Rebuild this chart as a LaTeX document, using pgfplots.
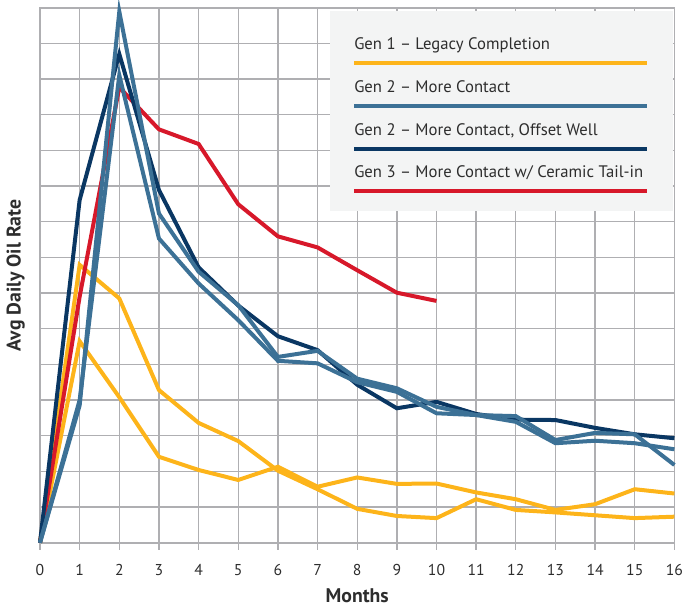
\documentclass[border=0pt]{standalone}
\usepackage{pgfplots}
\pgfplotsset{compat=1.18}
\usepackage{fontspec}
\setmainfont{PT Sans}
\definecolor{gOrange}{RGB}{253,180,26}
\definecolor{gSteel}{RGB}{60,113,150}
\definecolor{gNavy}{RGB}{10,55,99}
\definecolor{gRed}{RGB}{215,24,42}
\definecolor{gGrid}{RGB}{175,175,178}
\definecolor{gLegBg}{RGB}{243,244,244}
\definecolor{gText}{RGB}{45,45,45}
\begin{document}
\begin{tikzpicture}[x=0.75pt,y=0.75pt]
\begin{axis}[
  at={(30pt,48.2pt)}, anchor=south west,
  scale only axis, width=475.8pt, height=401.25pt,
  xmin=0, xmax=16, ymin=0, ymax=15,
  xtick={0,...,16}, ytick={0,...,15}, yticklabels={},
  grid=major,
  grid style={draw=gGrid, line width=1pt},
  axis line style={draw=gGrid, line width=1.3pt},
  tick align=outside, xtick pos=bottom, ytick pos=left,
  major tick length=5.25pt,
  xtick style={draw=gGrid, line width=1pt},
  ytick style={draw=none},
  /pgf/number format/assume math mode=true,
  tick label style={font=\fontsize{11.8}{13}\selectfont, text=gText},
  xticklabel style={yshift=-7.5pt},
  xlabel={\textbf{Months}},
  ylabel={\textbf{Avg Daily Oil Rate}},
  label style={font=\fontsize{14.8}{16}\selectfont, text=gText},
  xlabel style={at={(axis description cs:0.5,-0.1121)}, anchor=base},
  ylabel style={at={(axis description cs:-0.0305,0.5)}, anchor=base},
  clip=false,
  every axis plot/.append style={line width=3pt, line join=miter},
]
% Gen 1 - Legacy Completion (two wells)
\addplot[gOrange] coordinates {(0,0) (1,7.79) (2,6.85) (3,4.28) (4,3.36) (5,2.85) (6,2.02) (7,1.50) (8,0.95) (9,0.75) (10,0.69) (11,1.22) (12,0.92) (13,0.85) (14,0.77) (15,0.69) (16,0.73)};
\addplot[gOrange] coordinates {(0,0) (1,5.65) (2,4.08) (3,2.41) (4,2.04) (5,1.76) (6,2.13) (7,1.57) (8,1.83) (9,1.65) (10,1.66) (11,1.41) (12,1.22) (13,0.92) (14,1.08) (15,1.50) (16,1.38)};
% Gen 3 - More Contact w/ Ceramic Tail-in
\addplot[gRed] coordinates {(0,0) (1,6.9) (2,12.77) (3,11.59) (4,11.18) (5,9.49) (6,8.59) (7,8.28) (8,7.64) (9,7.01) (10,6.78)};
% Gen 2 - More Contact, Offset Well
\addplot[gNavy] coordinates {(0,0) (1,9.61) (2,13.70) (3,9.89) (4,7.72) (5,6.65) (6,5.79) (7,5.40) (8,4.43) (9,3.77) (10,3.95) (11,3.61) (12,3.45) (13,3.44) (14,3.22) (15,3.04) (16,2.93)};
% Gen 2 - More Contact (two wells)
\addplot[gSteel] coordinates {(0,0) (1,3.85) (2,14.89) (3,9.23) (4,7.60) (5,6.66) (6,5.21) (7,5.38) (8,4.60) (9,4.33) (10,3.81) (11,3.58) (12,3.55) (13,2.88) (14,3.08) (15,3.04) (16,2.18)};
\addplot[gSteel] coordinates {(0,0) (1,4.00) (2,13.11) (3,8.53) (4,7.27) (5,6.24) (6,5.10) (7,5.03) (8,4.50) (9,4.23) (10,3.63) (11,3.58) (12,3.39) (13,2.79) (14,2.86) (15,2.79) (16,2.62)};
\end{axis}
% legend box (pixel units, y measured from bottom)
\fill[gLegBg] (330,396) rectangle (673,596);
\begin{scope}[font=\fontsize{12.5}{14}\selectfont, text=gText]
\node[anchor=base west, inner sep=0pt] at (354,557.7) {Gen 1 – Legacy Completion};
\draw[gOrange, line width=3pt] (354,544) -- (647,544);
\node[anchor=base west, inner sep=0pt] at (354,514.7) {Gen 2 – More Contact};
\draw[gSteel, line width=3pt] (354,501) -- (647,501);
\node[anchor=base west, inner sep=0pt] at (354,471.7) {Gen 2 – More Contact, Offset Well};
\draw[gNavy, line width=3pt] (354,458) -- (647,458);
\node[anchor=base west, inner sep=0pt] at (354,429.3) {Gen 3 – More Contact w/ Ceramic Tail-in};
\draw[gRed, line width=3pt] (354,416) -- (647,416);
\end{scope}
\pgfresetboundingbox
\path[use as bounding box] (0,0) rectangle (682,607);
\end{tikzpicture}
\end{document}
